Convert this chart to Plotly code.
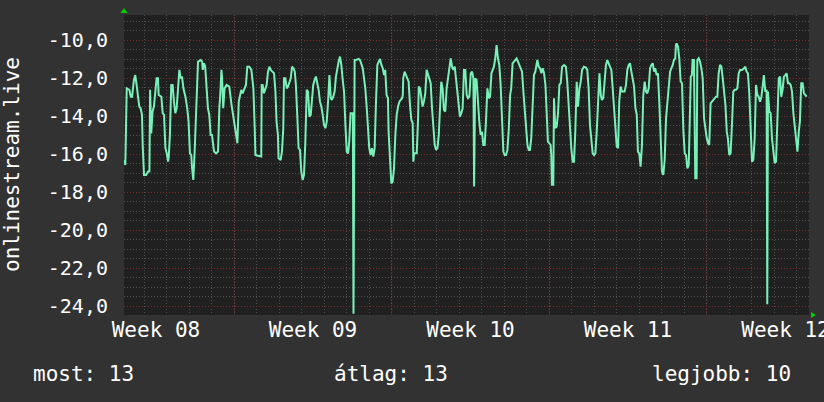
import plotly.graph_objects as go

# ---- data: time in days from left edge of the graph, values ----
t_a = [0.00, 0.06, 0.12, 0.24, 0.30, 0.36, 0.44, 0.50, 0.56, 0.62, 0.68, 0.74, 0.80, 0.83, 0.89, 0.98,
       1.07, 1.13, 1.16, 1.21, 1.27, 1.33, 1.39, 1.45, 1.51, 1.54, 1.66, 1.72, 1.78, 1.84, 1.90, 1.96,
       1.99, 2.04, 2.10, 2.16, 2.22, 2.28, 2.34, 2.40, 2.46, 2.52, 2.58, 2.64, 2.73, 2.81, 2.87, 2.93,
       2.99, 3.02, 3.08, 3.14, 3.20, 3.26, 3.29, 3.41, 3.47, 3.50, 3.56, 3.61, 3.67, 3.73, 3.79, 3.85,
       3.91, 4.00, 4.09, 4.18, 4.24, 4.27, 4.33, 4.36, 4.41, 4.47, 4.56, 4.68, 4.77, 4.86, 4.95, 5.04,
       5.10, 5.16, 5.21, 5.27, 5.33, 5.42, 5.48, 5.57, 5.66, 5.75, 5.81, 5.84, 5.96, 6.04, 6.10]
v_a = [-16.30, -16.56, -12.53, -12.61, -12.97, -12.97, -12.09, -11.83, -12.35, -13.05, -13.49, -13.58,
       -13.93, -15.51, -17.09, -17.09, -16.91, -16.91, -12.61, -14.90, -13.75, -13.49, -12.88, -12.00,
       -12.00, -12.88, -12.97, -13.84, -13.93, -15.68, -15.95, -16.39, -16.12, -14.98, -12.35, -12.35,
       -13.23, -13.84, -13.58, -12.53, -11.56, -12.00, -11.91, -12.53, -12.97, -13.58, -14.28, -15.95,
       -16.04, -16.65, -17.35, -15.86, -13.75, -12.53, -11.12, -11.04, -11.12, -11.56, -11.21, -11.39,
       -12.44, -13.58, -13.93, -14.98, -14.98, -15.86, -15.95, -15.86, -13.49, -13.05, -11.56, -12.00,
       -13.58, -12.53, -12.35, -12.44, -13.32, -14.11, -14.81, -15.42, -13.23, -12.88, -12.61, -12.79,
       -12.61, -12.35, -11.39, -11.39, -11.56, -12.53, -14.63, -16.04, -16.08, -16.12, -16.12]

t_b = [6.12, 6.16, 6.22, 6.28, 6.34, 6.40, 6.46, 6.52, 6.61, 6.67, 6.73, 6.78, 6.84, 6.87, 6.96, 7.02,
       7.08, 7.11, 7.17, 7.23, 7.29, 7.35, 7.41, 7.47, 7.53, 7.59, 7.64, 7.70, 7.76, 7.82, 7.88, 7.94,
       8.00, 8.06, 8.09, 8.12, 8.18, 8.24, 8.30, 8.36, 8.41, 8.47, 8.53, 8.59, 8.65, 8.71, 8.77, 8.83,
       8.89, 8.95, 9.01, 9.07, 9.13, 9.19, 9.24, 9.30, 9.36, 9.42, 9.48, 9.54, 9.60, 9.66, 9.72, 9.78,
       9.84, 9.90, 9.96, 10.01, 10.07, 10.17, 10.20, 10.25, 10.31, 10.43, 10.49, 10.55, 10.61, 10.67,
       10.73, 10.79, 10.84, 10.90, 10.96, 11.02, 11.08, 11.14, 11.20, 11.26, 11.32, 11.38, 11.44, 11.50,
       11.56, 11.61, 11.67, 11.73, 11.76, 11.82, 11.88, 11.94, 12.00, 12.06, 12.12, 12.18, 12.24]
v_b = [-12.35, -12.35, -12.79, -12.61, -12.35, -11.65, -11.39, -11.56, -11.65, -11.74, -12.70, -14.28,
       -14.98, -16.21, -16.30, -15.86, -14.63, -12.00, -12.00, -12.53, -12.44, -12.18, -12.00, -11.39,
       -11.47, -11.65, -12.35, -13.93, -15.68, -15.77, -16.91, -17.35, -17.09, -15.33, -13.67, -12.61,
       -12.70, -14.02, -13.93, -13.23, -12.35, -12.09, -11.91, -12.26, -12.61, -13.23, -13.49, -13.93,
       -14.46, -14.63, -14.28, -13.23, -11.83, -13.05, -13.14, -12.97, -12.70, -11.91, -11.39, -11.12,
       -10.86, -11.30, -12.09, -12.70, -14.46, -15.86, -15.95, -15.33, -13.84, -13.84, -24.40, -11.04,
       -11.04, -10.98, -11.04, -11.21, -11.47, -12.00, -12.61, -13.58, -14.81, -15.68, -16.04, -15.68,
       -16.12, -15.68, -13.23, -11.30, -11.12, -10.98, -11.30, -11.47, -11.83, -11.56, -12.88, -13.05,
       -14.81, -16.39, -17.53, -17.44, -16.74, -14.98, -13.93, -13.49, -13.23]

t_c = [12.30, 12.36, 12.39, 12.41, 12.47, 12.53, 12.59, 12.65, 12.71, 12.77, 12.83, 12.86, 12.89, 13.01,
       13.07, 13.10, 13.16, 13.22, 13.27, 13.33, 13.39, 13.45, 13.51, 13.57, 13.63, 13.69, 13.75, 13.81,
       13.87, 13.93, 13.99, 14.04, 14.10, 14.16, 14.22, 14.28, 14.34, 14.40, 14.46, 14.52, 14.58, 14.64,
       14.70, 14.76, 14.81, 14.87, 14.93, 14.99, 15.05, 15.11, 15.17, 15.23, 15.29, 15.35, 15.41, 15.47,
       15.53, 15.56, 15.59, 15.61, 15.67, 15.73, 15.79, 15.85, 15.91, 15.97, 16.03, 16.09, 16.15, 16.21,
       16.27, 16.33, 16.39, 16.44, 16.50, 16.56, 16.62, 16.68, 16.74, 16.80, 16.86, 16.92, 16.98, 17.04,
       17.10, 17.16, 17.21, 17.27, 17.33, 17.45, 17.51, 17.57, 17.63, 17.69, 17.75, 17.81, 17.87, 17.93,
       17.99, 18.04, 18.10, 18.16, 18.22, 18.28]
v_c = [-13.14, -13.05, -12.88, -12.00, -11.65, -11.83, -12.00, -12.18, -13.40, -14.19, -14.37, -16.39,
       -15.95, -15.95, -14.11, -12.44, -12.53, -13.14, -13.49, -13.23, -12.79, -11.56, -11.83, -12.00,
       -12.26, -13.58, -14.81, -15.51, -15.77, -15.68, -14.98, -13.84, -12.18, -12.53, -13.67, -13.75,
       -12.53, -12.00, -11.39, -10.95, -11.39, -11.56, -11.39, -12.00, -12.53, -13.32, -14.02, -13.84,
       -13.58, -11.56, -11.56, -12.88, -13.05, -12.97, -11.74, -11.65, -12.00, -17.70, -12.18, -12.00,
       -12.09, -13.58, -14.28, -14.98, -14.81, -15.51, -15.51, -14.19, -12.53, -13.05, -12.97, -11.74,
       -11.47, -11.39, -10.95, -10.25, -10.95, -11.30, -12.35, -14.11, -15.86, -16.04, -16.04, -15.77,
       -14.72, -12.88, -12.53, -11.21, -11.12, -10.95, -11.12, -11.30, -11.39, -11.65, -12.70, -13.67,
       -14.28, -15.51, -15.77, -15.77, -15.16, -13.58, -11.83, -11.65]

t_d = [18.37, 18.43, 18.49, 18.55, 18.61, 18.67, 18.73, 18.79, 18.84, 18.90, 18.96, 18.99, 19.02, 19.08,
       19.11, 19.17, 19.23, 19.29, 19.35, 19.41, 19.47, 19.56, 19.64, 19.70, 19.76, 19.82, 19.88, 19.94,
       20.00, 20.06, 20.12, 20.18, 20.24, 20.30, 20.36, 20.44, 20.53, 20.59, 20.65, 20.71, 20.77, 20.83,
       20.89, 20.95, 21.01, 21.07, 21.13, 21.19, 21.24, 21.30, 21.36, 21.42, 21.48, 21.54, 21.60, 21.66,
       21.72, 21.78, 21.84, 21.90, 21.96, 22.01, 22.07, 22.13, 22.19, 22.25, 22.31, 22.37, 22.43, 22.49,
       22.55, 22.61, 22.67, 22.73, 22.79, 22.84, 22.90, 22.96, 23.02, 23.08, 23.14, 23.20, 23.26, 23.32,
       23.38, 23.44, 23.50, 23.56, 23.61, 23.67, 23.73, 23.79, 23.85, 23.91, 23.97, 24.03, 24.09, 24.15,
       24.21, 24.27, 24.33, 24.39, 24.44, 24.50]
v_d = [-11.04, -11.39, -11.47, -11.74, -11.47, -11.74, -12.35, -13.93, -15.33, -15.42, -15.51, -16.04,
       -17.61, -17.61, -13.05, -14.63, -14.54, -13.84, -12.35, -12.26, -11.39, -11.30, -11.39, -12.18,
       -13.40, -14.63, -15.68, -16.39, -16.39, -14.72, -12.18, -13.49, -12.53, -12.18, -11.56, -11.39,
       -11.44, -11.56, -12.53, -14.46, -15.25, -15.95, -16.04, -15.95, -14.81, -13.23, -11.74, -12.88,
       -13.14, -13.05, -12.18, -11.30, -11.04, -11.21, -11.47, -11.56, -12.53, -13.40, -14.28, -15.60,
       -15.68, -13.23, -12.44, -12.70, -12.70, -12.70, -12.35, -11.56, -11.30, -11.21, -11.65, -12.00,
       -12.44, -13.58, -13.93, -15.86, -15.95, -16.65, -15.51, -12.88, -12.18, -12.70, -12.79, -12.53,
       -11.47, -11.30, -11.21, -11.65, -11.47, -11.83, -11.74, -13.23, -15.51, -16.91, -17.09, -16.30,
       -14.11, -13.23, -12.53, -11.65, -11.47, -11.30, -11.04, -10.95]

t_e = [24.53, 24.56, 24.62, 24.68, 24.74, 24.80, 24.86, 24.92, 24.98, 25.04, 25.10, 25.13, 25.16, 25.19,
       25.24, 25.27, 25.33, 25.39, 25.45, 25.48, 25.54, 25.60, 25.66, 25.72, 25.78, 25.84, 25.90, 25.96,
       26.01, 26.07, 26.13, 26.19, 26.25, 26.31, 26.37, 26.43, 26.49, 26.55, 26.61, 26.67, 26.73, 26.79,
       26.84, 26.90, 26.96, 27.02, 27.08, 27.14, 27.20, 27.26, 27.32, 27.38, 27.47, 27.56, 27.61, 27.67,
       27.73, 27.79, 27.85, 27.91, 27.97, 28.03, 28.09, 28.15, 28.21, 28.27, 28.33, 28.39, 28.44, 28.50,
       28.56, 28.59, 28.62, 28.68, 28.74, 28.80, 28.86, 28.92, 28.98, 29.04, 29.10, 29.16, 29.21, 29.27,
       29.33, 29.39, 29.45, 29.51, 29.57, 29.63, 29.69, 29.75, 29.81, 29.87, 29.93, 29.99, 30.04, 30.10,
       30.16, 30.22, 30.28, 30.34]
v_e = [-10.25, -10.16, -10.33, -10.95, -12.18, -12.26, -14.72, -15.95, -16.04, -16.74, -16.56, -14.81,
       -13.23, -11.91, -11.83, -11.04, -11.04, -17.26, -17.26, -11.04, -10.95, -11.12, -11.47, -12.00,
       -14.11, -14.81, -15.16, -15.42, -15.51, -13.32, -13.23, -13.14, -13.05, -12.97, -12.97, -11.74,
       -11.30, -11.39, -12.00, -12.79, -13.40, -14.81, -15.16, -16.04, -15.95, -14.46, -12.70, -12.61,
       -12.61, -12.53, -11.74, -11.56, -11.56, -11.47, -11.39, -11.65, -11.74, -12.79, -14.37, -16.39,
       -16.30, -15.16, -12.35, -12.88, -12.97, -13.23, -12.97, -12.18, -11.83, -12.70, -12.61, -23.90,
       -12.70, -13.75, -13.84, -15.16, -15.86, -16.47, -16.39, -14.28, -12.00, -11.91, -12.97, -12.61,
       -11.91, -11.83, -11.74, -12.26, -12.26, -12.35, -12.70, -13.84, -14.46, -15.25, -15.86, -14.81,
       -14.28, -12.26, -12.26, -12.79, -12.88, -12.97]

week_label_pos = [1.42, 8.40, 15.40, 22.40, 29.40]
week_labels = ["Week 08", "Week 09", "Week 10", "Week 11", "Week 12"]
week_grid_pos = [4.90, 11.90, 18.90, 25.90]
y_ticks = [-10, -12, -14, -16, -18, -20, -22, -24]
y_tick_text = ["-10,0", "-12,0", "-14,0", "-16,0", "-18,0", "-20,0", "-22,0", "-24,0"]
series_name = "onlinestream.live"
stats = [("most: 13", "left"), ("átlag: 13", "left"), ("legjobb: 10", "right")]

t = t_a + t_b + t_c + t_d + t_e
v = v_a + v_b + v_c + v_d + v_e

W, H = 824, 402
L, R, T, B = 124, 15, 15, 87
PW, PH = W - L - R, H - T - B
FONT = "DejaVu Sans Mono"
BG = "#323232"
PLOT_BG = "#202020"
MINOR = "#4e4e4e"
MAJOR = "#7a2a2a"

fig = go.Figure()
fig.add_trace(go.Scatter(x=t, y=v, mode="lines", name=series_name,
                         line=dict(color="#78f0b8", width=2), hoverinfo="skip"))

shapes = []
for gx in week_grid_pos:
    shapes.append(dict(type="line", xref="x", yref="paper", x0=gx, x1=gx, y0=0, y1=1,
                       line=dict(color=MAJOR, width=1, dash="1px,2px"), layer="between"))
# green arrows at axis ends
shapes.append(dict(type="path", xref="paper", yref="paper", xsizemode="pixel", ysizemode="pixel",
                   xanchor=0, yanchor=1, path="M -3.5,2 L 3.5,2 L 0,7 Z",
                   fillcolor="#00d000", line=dict(width=0), layer="above"))
shapes.append(dict(type="path", xref="paper", yref="paper", xsizemode="pixel", ysizemode="pixel",
                   xanchor=1, yanchor=0, path="M 2,-3 L 2,3 L 7,0 Z",
                   fillcolor="#00d000", line=dict(width=0), layer="above"))

stat_y = (T + PH - 374) / PH
annotations = [
    dict(text=series_name, xref="paper", yref="paper", x=(12 - L) / PW, y=0.5,
         xanchor="center", yanchor="middle", textangle=-90, showarrow=False,
         font=dict(family=FONT, size=21, color="white")),
    dict(text=stats[0][0], xref="paper", yref="paper", x=(31 - L) / PW, y=stat_y,
         xanchor="left", yanchor="middle", showarrow=False, font=dict(family=FONT, size=21, color="white")),
    dict(text=stats[1][0], xref="paper", yref="paper", x=(332 - L) / PW, y=stat_y,
         xanchor="left", yanchor="middle", showarrow=False, font=dict(family=FONT, size=21, color="white")),
    dict(text=stats[2][0], xref="paper", yref="paper", x=(793 - L) / PW, y=stat_y,
         xanchor="right", yanchor="middle", showarrow=False, font=dict(family=FONT, size=21, color="white")),
]

fig.update_layout(
    width=W, height=H, margin=dict(l=L, r=R, t=T, b=B, autoexpand=False),
    paper_bgcolor=BG, plot_bgcolor=PLOT_BG, showlegend=False,
    shapes=shapes, annotations=annotations,
    xaxis=dict(range=[0, PW / 22.5], tickmode="array", tickvals=week_label_pos, ticktext=week_labels,
               showgrid=False, zeroline=False, showline=False, ticks="", ticklabeloverflow="allow",
               automargin=False,
               tickfont=dict(family=FONT, size=21, color="white"),
               minor=dict(tickmode="linear", tick0=0.9, dtick=1, showgrid=True, gridcolor=MINOR,
                          griddash="1px,2px", gridwidth=1, ticks="")),
    yaxis=dict(range=[-24.46, -8.67], tickmode="array", tickvals=y_ticks, ticktext=y_tick_text,
               showgrid=True, gridcolor=MAJOR, griddash="1px,2px", gridwidth=1,
               zeroline=False, showline=False, ticks="", ticklabelstandoff=15, automargin=False,
               tickfont=dict(family=FONT, size=20, color="white"),
               minor=dict(tickmode="linear", tick0=0, dtick=0.5, showgrid=True, gridcolor=MINOR,
                          griddash="1px,2px", gridwidth=1, ticks="")),
)

fig.write_html("out.html", config={"displayModeBar": False},
               post_script="document.body.style.margin='0';document.body.style.overflow='hidden';")
